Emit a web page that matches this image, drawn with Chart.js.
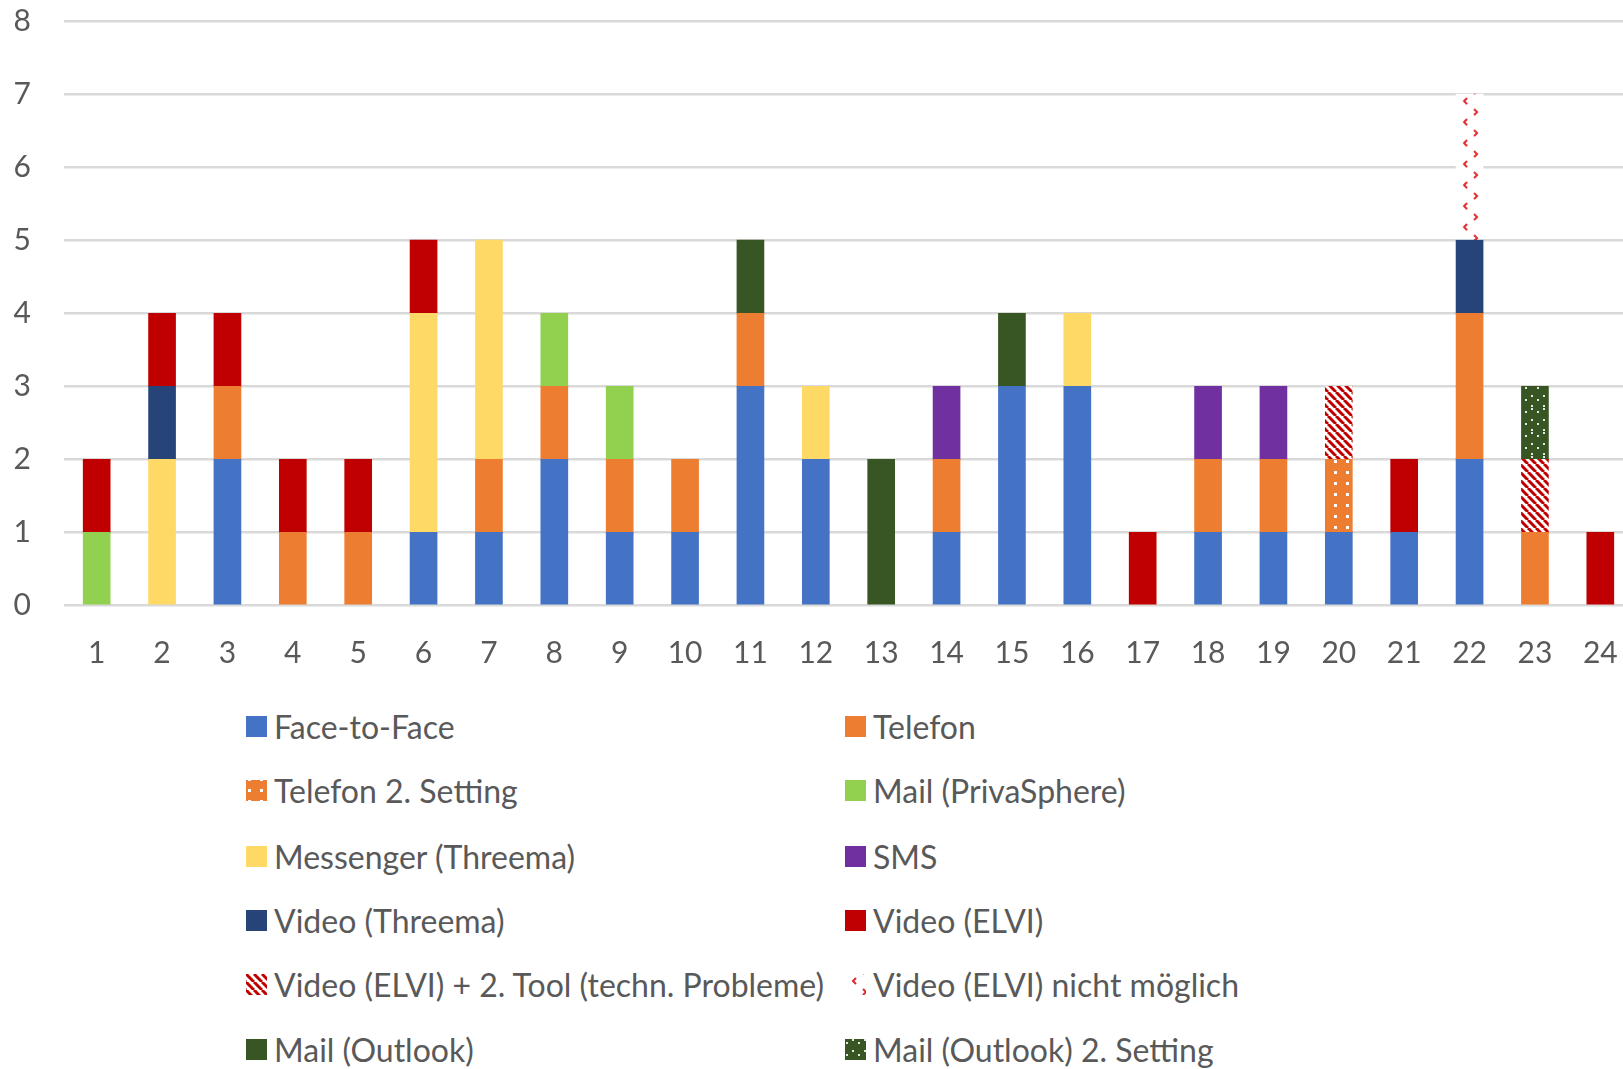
<!DOCTYPE html>
<html>
<head>
<meta charset="utf-8">
<script src="https://cdn.jsdelivr.net/npm/chart.js@4.4.0/dist/chart.umd.min.js"></script>
<style>
    html, body { margin: 0; padding: 0; background: #fff; overflow: hidden; width: 1623px; height: 1069px; }
    #chartBox { position: absolute; left: 0; top: 0; }
    .legend-item { position: absolute; display: flex; align-items: center; white-space: nowrap; height: 40px;
        font-family: Lato, "Open Sans", sans-serif; font-size: 32px; color: #595959; }
    .legend-item canvas { width: 21px; height: 21px; margin-right: 7px; flex: none; }
</style>
</head>
<body>
<div id="chartBox"><canvas id="chart" width="1633" height="700"></canvas></div>
<div id="legend"></div>

<script>
// --- DATA ---
const categories = ['1','2','3','4','5','6','7','8','9','10','11','12','13','14','15','16','17','18','19','20','21','22','23','24'];
const yTicks = [0, 1, 2, 3, 4, 5, 6, 7, 8];

const faceToFace   = [0,0,2,0,0,1,1,2,1,1,3,2,0,1,3,3,0,1,1,1,1,2,0,0];
const telefon      = [0,0,1,1,1,0,1,1,1,1,1,0,0,1,0,0,0,1,1,0,0,2,1,0];
const telefon2     = [0,0,0,0,0,0,0,0,0,0,0,0,0,0,0,0,0,0,0,1,0,0,0,0];
const mailPriva    = [1,0,0,0,0,0,0,1,1,0,0,0,0,0,0,0,0,0,0,0,0,0,0,0];
const messenger    = [0,2,0,0,0,3,3,0,0,0,0,1,0,0,0,1,0,0,0,0,0,0,0,0];
const sms          = [0,0,0,0,0,0,0,0,0,0,0,0,0,1,0,0,0,1,1,0,0,0,0,0];
const videoThreema = [0,1,0,0,0,0,0,0,0,0,0,0,0,0,0,0,0,0,0,0,0,1,0,0];
const videoElvi    = [1,1,1,1,1,1,0,0,0,0,0,0,0,0,0,0,1,0,0,0,1,0,0,1];
const elviTool     = [0,0,0,0,0,0,0,0,0,0,0,0,0,0,0,0,0,0,0,1,0,0,1,0];
const elviNicht    = [0,0,0,0,0,0,0,0,0,0,0,0,0,0,0,0,0,0,0,0,0,2,0,0];
const mailOutlook  = [0,0,0,0,0,0,0,0,0,0,1,0,2,0,1,0,0,0,0,0,0,0,0,0];
const outlook2     = [0,0,0,0,0,0,0,0,0,0,0,0,0,0,0,0,0,0,0,0,0,0,1,0];

const seriesNames = ['Face-to-Face', 'Telefon', 'Telefon 2. Setting', 'Mail (PrivaSphere)',
    'Messenger (Threema)', 'SMS', 'Video (Threema)', 'Video (ELVI)',
    'Video (ELVI) + 2. Tool (techn. Probleme)', 'Video (ELVI) nicht möglich',
    'Mail (Outlook)', 'Mail (Outlook) 2. Setting'];
const seriesData = [faceToFace, telefon, telefon2, mailPriva, messenger, sms,
    videoThreema, videoElvi, elviTool, elviNicht, mailOutlook, outlook2];

// --- PATTERN TILES ---
function tile(w, h, draw) {
    const c = document.createElement('canvas');
    c.width = w; c.height = h;
    draw(c.getContext('2d'));
    return c;
}

const dotsOrange = tile(12, 11, g => {
    g.fillStyle = '#ED7D31'; g.fillRect(0, 0, 12, 11);
    g.fillStyle = '#ffffff'; g.fillRect(2, 9, 3, 2); g.fillRect(2, 0, 3, 1);
});
const dotsGreen = tile(12, 24, g => {
    g.fillStyle = '#375623'; g.fillRect(0, 0, 12, 24);
    g.fillStyle = '#e6e6e6';
    g.fillRect(1, 3, 2, 2); g.fillRect(1, 15, 2, 2);
    g.fillRect(7, 0, 2, 2); g.fillRect(7, 11, 2, 2); g.fillRect(7, 21, 2, 2);
});
const stripes = tile(8, 8, g => {
    g.fillStyle = '#ffffff'; g.fillRect(0, 0, 8, 8);
    g.strokeStyle = '#C00000'; g.lineWidth = 3;
    g.beginPath();
    for (let x = -8; x <= 8; x += 8) { g.moveTo(x, 0); g.lineTo(x + 8, 8); }
    g.stroke();
});
const chevrons = tile(27, 21, g => {
    g.fillStyle = '#ffffff'; g.fillRect(0, 0, 27, 21);
    g.strokeStyle = '#E0282A'; g.lineWidth = 2;
    g.beginPath();
    g.moveTo(11, 4); g.lineTo(8, 7); g.lineTo(11, 10);
    g.moveTo(18, 15); g.lineTo(21, 18); g.lineTo(18, 21);
    g.moveTo(18, -6); g.lineTo(21, -3); g.lineTo(18, 0);
    g.stroke();
});

const ctx = document.getElementById('chart').getContext('2d');
const chevronPattern = ctx.createPattern(chevrons, 'repeat');

const colors = ['#4472C4', '#ED7D31', ctx.createPattern(dotsOrange, 'repeat'), '#92D050',
    '#FFD966', '#7030A0', '#264478', '#C00000',
    ctx.createPattern(stripes, 'repeat'), chevronPattern,
    '#375623', ctx.createPattern(dotsGreen, 'repeat')];
const swatchTiles = [null, null, dotsOrange, null, null, null, null, null, stripes, chevrons, null, dotsGreen];

// keep the chevron tile aligned with its bar
const alignPatterns = {
    id: 'alignPatterns',
    beforeDatasetsDraw(chart) {
        const x = chart.scales.x.getPixelForValue(21) - 13.5;
        const y = chart.scales.y.getPixelForValue(7);
        chevronPattern.setTransform(new DOMMatrix([1, 0, 0, 1, x, y]));
    }
};

function noPad(scale) {
    scale.paddingTop = 0; scale.paddingBottom = 0;
    scale.paddingLeft = 0; scale.paddingRight = 0;
}

new Chart(ctx, {
    type: 'bar',
    data: {
        labels: categories,
        datasets: seriesData.map((d, i) => ({
            label: seriesNames[i],
            data: d.map(v => (v === 0 ? null : v)),
            backgroundColor: colors[i],
            borderWidth: 0,
            barThickness: 27
        }))
    },
    options: {
        responsive: false,
        animation: false,
        devicePixelRatio: 1,
        layout: { padding: { top: 21, left: 0, right: 0, bottom: 0 } },
        plugins: { legend: { display: false }, tooltip: { enabled: false } },
        scales: {
            x: {
                stacked: true,
                grid: { display: false, drawTicks: false },
                border: { display: false },
                ticks: { color: '#595959', font: { family: 'Lato', size: 30 }, padding: 30 },
                afterFit(scale) { scale.height = 700 - 605.5; noPad(scale); }
            },
            y: {
                stacked: true,
                min: 0, max: 8,
                afterBuildTicks(scale) { scale.ticks = yTicks.map(v => ({ value: v })); },
                grid: { color: '#d9d9d9', lineWidth: 2.5, drawTicks: false },
                border: { display: false },
                ticks: { color: '#595959', font: { family: 'Lato', size: 30 }, padding: 33 },
                afterFit(scale) { scale.width = 64; noPad(scale); }
            }
        }
    },
    plugins: [alignPatterns]
});

// --- LEGEND ---
const legendRows = [727.6, 791.8, 857, 921, 985.4, 1050.6];
const legendCols = [246, 845];
const legend = document.getElementById('legend');
seriesNames.forEach((name, i) => {
    const item = document.createElement('div');
    item.className = 'legend-item';
    item.style.left = legendCols[i % 2] + 'px';
    item.style.top = (legendRows[Math.floor(i / 2)] - 21) + 'px';
    const sw = document.createElement('canvas');
    sw.width = 21; sw.height = 21;
    const g = sw.getContext('2d');
    if (swatchTiles[i]) {
        g.fillStyle = g.createPattern(swatchTiles[i], 'repeat');
    } else {
        g.fillStyle = colors[i];
    }
    g.fillRect(0, 0, 21, 21);
    item.appendChild(sw);
    item.appendChild(document.createTextNode(name));
    legend.appendChild(item);
});
</script>
</body>
</html>
